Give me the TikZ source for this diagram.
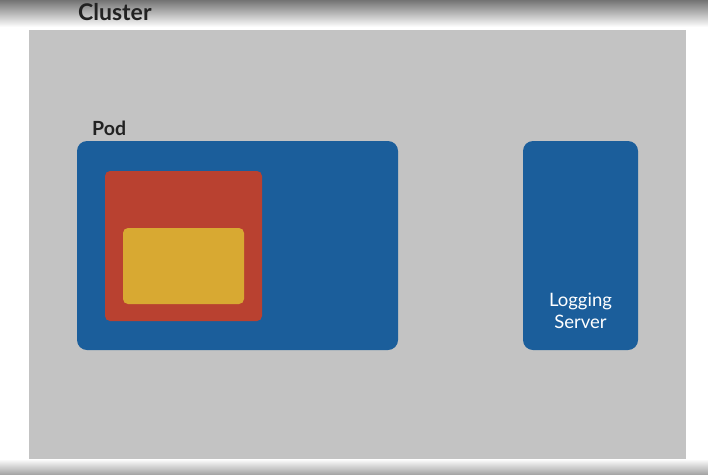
\documentclass[tikz,border=0pt]{standalone}
\usepackage{fontspec}
\setmainfont{Lato}
\definecolor{podblue}{HTML}{1B5E9B}
\definecolor{cred}{HTML}{B94130}
\definecolor{cyellow}{HTML}{D8A932}
\definecolor{panelgray}{HTML}{C3C3C3}
\definecolor{labeltext}{HTML}{222222}
\begin{document}
\begin{tikzpicture}[x=1pt,y=-1pt,
  box/.style={rounded corners=#1},
  lbl/.style={font=\bfseries\fontsize{#1}{#1}\selectfont, text=labeltext, inner sep=0pt, anchor=base west},
  srvtext/.style={font=\fontsize{18.5}{21.5}\selectfont, text=white, align=center, inner sep=0pt}]
\useasboundingbox (0,0) rectangle (708,474);
\fill[white] (0,0) rectangle (708,474);
\shade[top color=gray!90!black, bottom color=white] (0,0) rectangle (708,27);
\shade[top color=white, bottom color=gray!70] (0,459) rectangle (708,474);
\fill[panelgray] (29,30) rectangle (686,459);
\node[lbl=23] (cluster) at (78,20.5) {Cluster};
\node[lbl=19.5] (podlbl) at (92,135) {Pod};
\fill[podblue, box=10pt] (77,141) rectangle (398,350);
\fill[cred, box=5pt] (105,171) rectangle (262,321);
\fill[cyellow, box=5pt] (123,228) rectangle (244,304);
\fill[podblue, box=10pt] (523,141) rectangle (638,350);
\node[srvtext] (srv) at (580.5,311) {Logging\\Server};
\end{tikzpicture}
\end{document}
